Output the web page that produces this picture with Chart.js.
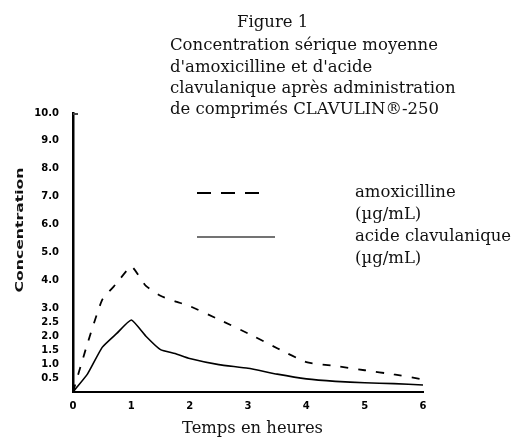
<!DOCTYPE html>
<html>
<head>
<meta charset="utf-8">
<script src="https://cdn.jsdelivr.net/npm/chart.js@4.4.1/dist/chart.umd.min.js"></script>
<style>
  html, body { margin: 0; padding: 0; background: #fff; }
</style>
</head>
<body>
<canvas id="chart" width="513" height="438"></canvas>
<script>
// time in hours and mean serum concentrations (µg/mL)
const hours = [0, 0.25, 0.5, 0.75, 1, 1.25, 1.5, 1.75, 2, 2.5, 3, 3.5, 4, 4.5, 5, 5.5, 6];
const amoxicilline = [0, 1.75, 3.3, 3.9, 4.5, 3.8, 3.45, 3.25, 3.08, 2.6, 2.1, 1.57, 1.07, 0.93, 0.78, 0.63, 0.45];
const acideClavulanique = [0, 0.65, 1.6, 2.1, 2.58, 2.0, 1.52, 1.38, 1.2, 0.98, 0.85, 0.64, 0.47, 0.38, 0.33, 0.3, 0.25];

const yTicks = [0.5, 1, 1.5, 2, 2.5, 3, 4, 5, 6, 7, 8, 9, 10];
const xTicks = [0, 1, 2, 3, 4, 5, 6];

const titleLines = [
    "Figure 1",
    "Concentration sérique moyenne",
    "d'amoxicilline et d'acide",
    "clavulanique après administration",
    "de comprimés CLAVULIN®-250"
];
const legendLabels = ["amoxicilline", "(µg/mL)", "acide clavulanique", "(µg/mL)"];
const xTitle = "Temps en heures";
const yTitle = "Concentration";

const serif = '16px "DejaVu Serif"';

// draws text squeezed/stretched horizontally by sx
function drawText(ctx, text, x, y, sx, align) {
    ctx.save();
    ctx.translate(x, y);
    ctx.scale(sx, 1);
    ctx.textAlign = align || "left";
    ctx.fillText(text, 0, 0);
    ctx.restore();
}

const decorations = {
    id: "decorations",
    afterDraw(chart) {
        const ctx = chart.ctx;
        ctx.save();
        ctx.fillStyle = "#111";
        ctx.textBaseline = "alphabetic";
        ctx.font = serif;

        // one horizontal scale for all serif text, fitted on the longest title line
        const sx = 268 / ctx.measureText(titleLines[1]).width;

        drawText(ctx, titleLines[0], 237, 27, sx);
        const baselines = [50, 72, 93, 114];
        for (let i = 1; i < titleLines.length; i++) {
            drawText(ctx, titleLines[i], 170, baselines[i - 1], sx);
        }

        // legend
        const legBase = [197, 219, 241, 263];
        legendLabels.forEach((t, i) => drawText(ctx, t, 355, legBase[i], sx));

        ctx.strokeStyle = "#000";
        ctx.lineWidth = 1.8;
        ctx.setLineDash([14, 10]);
        ctx.beginPath();
        ctx.moveTo(197, 193);
        ctx.lineTo(268, 193);
        ctx.stroke();
        ctx.setLineDash([]);
        ctx.strokeStyle = "#444";
        ctx.lineWidth = 1.6;
        ctx.beginPath();
        ctx.moveTo(197, 237);
        ctx.lineTo(275, 237);
        ctx.stroke();

        // x axis title
        ctx.fillStyle = "#111";
        const xw = ctx.measureText(xTitle).width;
        drawText(ctx, xTitle, 182, 433, 141 / xw);

        // y axis title, rotated
        ctx.font = 'bold 11px "DejaVu Sans"';
        const yw = ctx.measureText(yTitle).width;
        ctx.save();
        ctx.translate(23, 230);
        ctx.rotate(-Math.PI / 2);
        ctx.scale(125 / yw, 1);
        ctx.textAlign = "center";
        ctx.fillText(yTitle, 0, 0);
        ctx.restore();

        // small stub at the top of the y axis
        const top = chart.chartArea.top;
        const left = chart.chartArea.left;
        ctx.lineWidth = 2;
        ctx.beginPath();
        ctx.moveTo(left, top + 1);
        ctx.lineTo(left + 5, top + 1);
        ctx.stroke();

        ctx.restore();
    }
};

const tickFont = { family: "DejaVu Sans", size: 10, weight: "bold" };

new Chart(document.getElementById("chart"), {
    type: "line",
    data: {
        datasets: [{
            label: "amoxicilline",
            data: hours.map((h, i) => ({ x: h, y: amoxicilline[i] })),
            borderColor: "#000",
            borderWidth: 1.8,
            borderDash: [8, 10],
            pointRadius: 0,
            tension: 0.15
        }, {
            label: "acide clavulanique",
            data: hours.map((h, i) => ({ x: h, y: acideClavulanique[i] })),
            borderColor: "#000",
            borderWidth: 1.6,
            pointRadius: 0,
            tension: 0.15
        }]
    },
    options: {
        responsive: false,
        animation: false,
        layout: { padding: { top: 113, right: 90, left: 0, bottom: 0 } },
        plugins: {
            legend: { display: false },
            title: { display: false },
            tooltip: { enabled: false }
        },
        scales: {
            x: {
                type: "linear",
                min: 0,
                max: 6,
                afterBuildTicks: s => { s.ticks = xTicks.map(v => ({ value: v })); },
                afterFit: s => { s.height = 46; },
                grid: { display: false, drawTicks: false },
                border: { color: "#000", width: 2 },
                ticks: { padding: 8, color: "#000", font: tickFont, callback: v => String(v) }
            },
            y: {
                type: "linear",
                min: 0,
                max: 10,
                afterBuildTicks: s => { s.ticks = yTicks.map(v => ({ value: v })); },
                afterFit: s => { s.width = 73; },
                grid: { display: false, drawTicks: false },
                border: { color: "#000", width: 2.5 },
                ticks: { padding: 14, color: "#000", font: tickFont, callback: v => v.toFixed(1) }
            }
        }
    },
    plugins: [decorations]
});
</script>
</body>
</html>
